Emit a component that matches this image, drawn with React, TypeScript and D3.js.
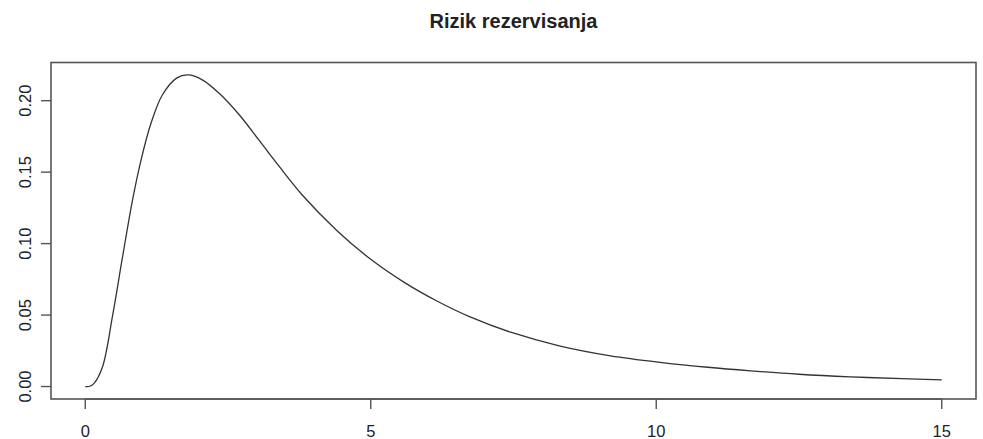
import React from "react";
import * as d3 from "d3";

// Density curve sampled along the horizontal axis
const xValues = [0, 0.08, 0.15, 0.3, 0.48, 0.65, 0.83, 0.98, 1.15, 1.35, 1.6, 1.8, 2.05, 2.35, 2.7, 3.05, 3.4, 3.8, 4.4, 5.0, 5.6, 6.15, 6.75, 7.45, 8.3, 9.2, 10.1, 10.9, 11.65, 12.5, 13.4, 14.3, 15];
const yValues = [0, 0.0002, 0.002, 0.0135, 0.05, 0.09, 0.131, 0.159, 0.184, 0.204, 0.2158, 0.218, 0.2146, 0.205, 0.19, 0.172, 0.1538, 0.134, 0.1094, 0.089, 0.0725, 0.06, 0.0485, 0.038, 0.0285, 0.0215, 0.0168, 0.0135, 0.011, 0.0086, 0.0068, 0.0055, 0.0046];

const xTicks = [0, 5, 10, 15];
const yTicks = [0, 0.05, 0.1, 0.15, 0.2];
const title = "Rizik rezervisanja";

const W = 983;
const H = 439;
const plot = { left: 51, right: 976, top: 62.5, bottom: 399 };

export default function App() {
  const xMin = d3.min(xValues)!;
  const xMax = d3.max(xValues)!;
  const yMin = d3.min(yValues)!;
  const yMax = d3.max(yValues)!;
  const xPad = (xMax - xMin) * 0.04;
  const yPad = (yMax - yMin) * 0.04;

  const x = d3.scaleLinear().domain([xMin - xPad, xMax + xPad]).range([plot.left, plot.right]);
  const y = d3.scaleLinear().domain([yMin - yPad, yMax + yPad]).range([plot.bottom, plot.top]);

  const pts = xValues.map((v, i) => [v, yValues[i]] as [number, number]);
  const line = d3
    .line<[number, number]>()
    .x((d) => x(d[0]))
    .y((d) => y(d[1]))
    .curve(d3.curveCatmullRom.alpha(0.5));

  const font = "Liberation Sans, Arial, Helvetica, sans-serif";
  const axisColor = "#555";
  const textColor = "#222";

  return (
    <svg width={W} height={H} style={{ position: "absolute", left: 0, top: 0, background: "#fff" }}>
      <text x={(plot.left + plot.right) / 2} y={27.5} textAnchor="middle" fontFamily={font} fontWeight="bold" fontSize={20} fill={textColor}>
        {title}
      </text>

      <rect x={plot.left} y={plot.top} width={plot.right - plot.left} height={plot.bottom - plot.top} fill="none" stroke={axisColor} strokeWidth={1.6} />

      <path d={line(pts) ?? ""} fill="none" stroke="#333" strokeWidth={1.3} />

      {/* x axis */}
      <line x1={x(xTicks[0])} x2={x(xTicks[xTicks.length - 1])} y1={plot.bottom} y2={plot.bottom} stroke={axisColor} strokeWidth={1.6} />
      {xTicks.map((t) => (
        <g key={`x${t}`}>
          <line x1={x(t)} x2={x(t)} y1={plot.bottom} y2={plot.bottom + 10} stroke={axisColor} strokeWidth={1.4} />
          <text x={x(t)} y={436.5} textAnchor="middle" fontFamily={font} fontSize={16.5} fill={textColor}>
            {t}
          </text>
        </g>
      ))}

      {/* y axis */}
      {yTicks.map((t) => (
        <g key={`y${t}`}>
          <line x1={plot.left - 10} x2={plot.left} y1={y(t)} y2={y(t)} stroke={axisColor} strokeWidth={1.4} />
          <text transform={`translate(31,${y(t)}) rotate(-90)`} textAnchor="middle" fontFamily={font} fontSize={16.5} fill={textColor}>
            {t.toFixed(2)}
          </text>
        </g>
      ))}
    </svg>
  );
}
